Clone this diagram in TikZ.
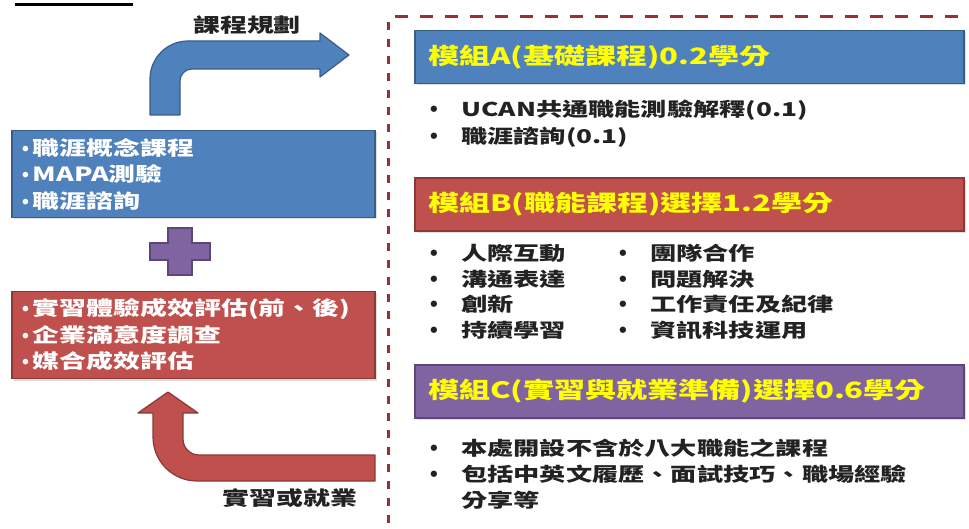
\documentclass[tikz,border=0pt]{standalone}
\usepackage{fontspec}
\setmainfont{Noto Sans CJK TC}[FakeStretch=1.38]
\newfontfamily\bulletfont{Liberation Sans}
\usetikzlibrary{shadows}
\definecolor{bfill}{HTML}{4F81BD}
\definecolor{bline}{HTML}{385D8A}
\definecolor{rfill}{HTML}{C0504D}
\definecolor{rline}{HTML}{8C3836}
\definecolor{pfill}{HTML}{8064A2}
\definecolor{pline}{HTML}{5C4776}
\definecolor{framecol}{HTML}{9B3034}
\definecolor{hdrtext}{HTML}{FFFF00}
\definecolor{ink}{HTML}{222222}
\newcommand\bl{\makebox[31pt][l]{{\bulletfont\bfseries\fontsize{22}{22}\selectfont •}}}
\newcommand\lb{{\bulletfont\bfseries •}\kern4pt}
\tikzset{
  leftbox/.style={minimum width=363pt, minimum height=87pt, text width=343pt, inner xsep=10pt, inner ysep=0pt,
    align=left, text=white, line width=1.2pt, font=\fontsize{19.5}{26.5}\selectfont\bfseries,
    drop shadow={shadow xshift=2pt, shadow yshift=-2pt, opacity=0.25}},
  hdrbox/.style={minimum height=53pt, text width=523pt, inner xsep=13pt, inner ysep=0pt,
    align=left, text=hdrtext, line width=1.2pt, font=\fontsize{22.5}{26}\selectfont\bfseries,
    drop shadow={shadow xshift=2pt, shadow yshift=-2pt, opacity=0.25}},
  listtext/.style={anchor=west, inner sep=0pt, align=left, text=ink},
  label/.style={inner sep=0pt, text=ink, font=\fontsize{19.5}{24}\selectfont\bfseries},
  bentarrow/.style={line width=1.2pt, line join=round}
}
\begin{document}
\begin{tikzpicture}[x=1pt, y=-1pt]
\useasboundingbox (0,0) rectangle (969,529);
\clip (0,0) rectangle (969,529);
\fill[white] (0,0) rectangle (969,529);

% top-left underline
\draw[line width=3pt, black] (15,5) -- (133,5);

% dashed frame
\draw[framecol, line width=3pt, dash pattern=on 13pt off 12pt] (395,17) -- (980,17);
\draw[framecol, line width=3pt, dash pattern=on 8pt off 9pt] (388,22) -- (388,540);

% blue bent arrow (course planning)
\filldraw[bentarrow, fill=bfill, draw=bline]
  (150,115) -- (150,79) arc[start angle=180, end angle=270, radius=38]
  -- (320,41) -- (320,33) -- (349,55) -- (320,77) -- (320,69)
  -- (192,69) arc[start angle=270, end angle=180, radius=12]
  -- (180,115) -- cycle;
\node[label] (plan) at (247,25) {課程規劃};

% left boxes
\node[leftbox, fill=bfill, draw=bline] (career) at (193.5,174) {\lb 職涯概念課程\\\lb MAPA測驗\\\lb 職涯諮詢};
\node[leftbox, fill=rfill, draw=rline] (intern) at (193.5,335) {\lb 實習體驗成效評估(前、後)\\\lb 企業滿意度調查\\\lb 媒合成效評估};

% plus sign
\filldraw[fill=pfill, draw=pline, line width=1.2pt]
  (168,228) -- (192,228) -- (192,243) -- (210,243) -- (210,260) -- (192,260)
  -- (192,275) -- (168,275) -- (168,260) -- (150,260) -- (150,243) -- (168,243) -- cycle;

% red bent arrow (internship or employment)
\filldraw[bentarrow, fill=rfill, draw=rline]
  (168,392) -- (198,413) -- (183,413)
  -- (183,439) arc[start angle=180, end angle=90, radius=16]
  -- (375,455) -- (375,481)
  -- (197,481) arc[start angle=90, end angle=180, radius=44]
  -- (153,413) -- (138,413) -- cycle;
\node[label] (job) at (290,498) {實習或就業};

% module headers
\node[hdrbox, fill=bfill, draw=bline] (modA) at (689.5,57) {模組A(基礎課程)0.2學分};
\node[hdrbox, fill=rfill, draw=rline] (modB) at (689.5,204.5) {模組B(職能課程)選擇1.2學分};
\node[hdrbox, fill=pfill, draw=pline] (modC) at (689.5,391.5) {模組C(實習與就業準備)選擇0.6學分};

% lists
\node[listtext, font=\fontsize{19}{27}\selectfont\bfseries] (listA) at (430,123.5)
  {\bl UCAN共通職能測驗解釋(0.1)\\\bl 職涯諮詢(0.1)};
\node[listtext, font=\fontsize{19}{25.5}\selectfont\bfseries] (listB1) at (430,292)
  {\bl 人際互動\\\bl 溝通表達\\\bl 創新\\\bl 持續學習};
\node[listtext, font=\fontsize{19}{25.5}\selectfont\bfseries] (listB2) at (619,292)
  {\bl 團隊合作\\\bl 問題解決\\\bl 工作責任及紀律\\\bl 資訊科技運用};
\node[listtext, font=\fontsize{19}{26}\selectfont\bfseries] (listC) at (430,474)
  {\bl 本處開設不含於八大職能之課程\\\bl 包括中英文履歷、面試技巧、職場經驗\\\hspace*{31pt}分享等};
\end{tikzpicture}
\end{document}
